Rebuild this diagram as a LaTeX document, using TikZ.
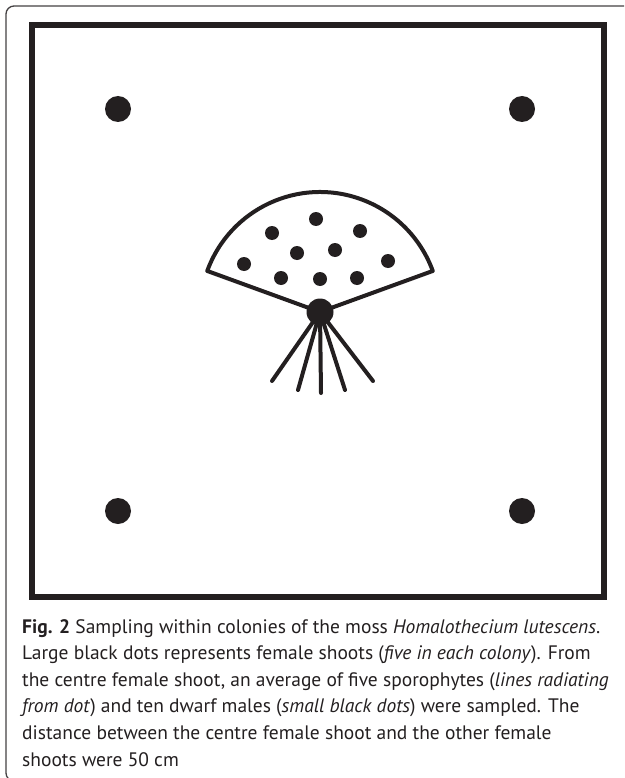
\documentclass[tikz,border=0pt]{standalone}
\usepackage{fontspec}
\setmainfont{PT Sans}
\usetikzlibrary{positioning}
\definecolor{ink}{HTML}{231F20}
\tikzset{captext/.style={anchor=base west,inner sep=0pt,text=ink,font=\fontsize{19.5}{26.6}\selectfont}}

\begin{document}
\begin{tikzpicture}[x=1pt,y=-1pt,line cap=round]
\useasboundingbox (0,0) rectangle (624,778);
\clip (0,0) rectangle (624,778);
% panel outline
\draw[ink!85,line width=1.3pt,rounded corners=8pt] (632,6) -- (6,6) -- (6,781) -- (632,781);
% colony square
\draw[ink,line width=6pt,line cap=butt] (32,25) rectangle (604,597);
% outer female shoots
\fill[ink] (118,109) circle (13);
\fill[ink] (522,109) circle (13);
\fill[ink] (118,511) circle (13);
\fill[ink] (522,511) circle (13);
% centre female shoot and the fan of dwarf males
\coordinate (centre) at (320,312);
\draw[ink,line width=4pt,line join=round] (centre) -- ++(-160:120) arc (-160:-20:120) -- cycle;
\fill[ink] (316,219) circle (7);
\fill[ink] (272,233) circle (7);
\fill[ink] (360,231) circle (7);
\fill[ink] (297,253) circle (7);
\fill[ink] (335,250) circle (7);
\fill[ink] (244,264) circle (7);
\fill[ink] (388,261) circle (7);
\fill[ink] (281,278) circle (7);
\fill[ink] (320,279) circle (7);
\fill[ink] (357,278) circle (7);
% sporophytes
\draw[ink,line width=4pt] (centre) -- (272,381);
\draw[ink,line width=4pt] (centre) -- (298,390);
\draw[ink,line width=4pt] (centre) -- (321,393);
\draw[ink,line width=4pt] (centre) -- (345,390);
\draw[ink,line width=4pt] (centre) -- (373,381);
\fill[ink] (centre) circle (13.5);
% caption
\node[captext] (cap1) at (22,633) {\textbf{Fig. 2} Sampling within colonies of the moss \textit{Homalothecium lutescens}.};
\node[captext] (cap2) at (22,659.6) {Large black dots represents female shoots (\textit{five in each colony}). From};
\node[captext] (cap3) at (22,686.2) {the centre female shoot, an average of five sporophytes (\textit{lines radiating}};
\node[captext] (cap4) at (22,712.8) {\textit{from dot}) and ten dwarf males (\textit{small black dots}) were sampled. The};
\node[captext] (cap5) at (22,739.4) {distance between the centre female shoot and the other female};
\node[captext] (cap6) at (22,766) {shoots were 50 cm};
\end{tikzpicture}
\end{document}
